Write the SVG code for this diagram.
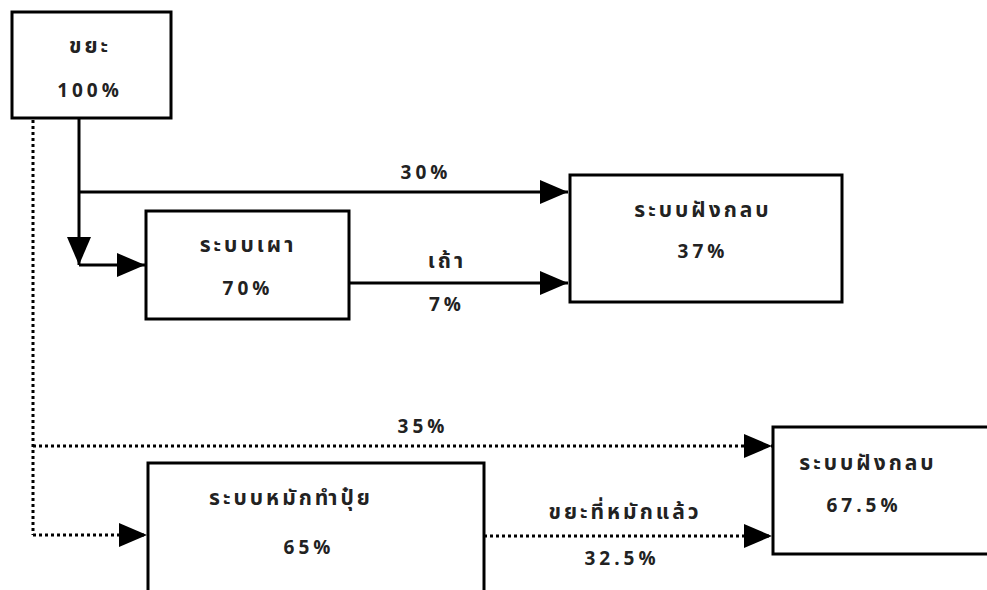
<svg xmlns="http://www.w3.org/2000/svg" width="987" height="590" viewBox="0 0 987 590">
<defs>
<style>
.box{fill:#fff;stroke:#000;stroke-width:3}
.t{font-family:"Noto Sans Thai","Noto Sans","DejaVu Sans","Liberation Sans",sans-serif;font-size:19px;font-weight:bold;fill:#222;text-anchor:middle;letter-spacing:4px}
.th{font-size:21px;letter-spacing:3px}
.s{fill:none;stroke:#000;stroke-width:3}
.d{fill:none;stroke:#000;stroke-width:3;stroke-dasharray:3 3}
</style>
<marker id="ah" markerUnits="userSpaceOnUse" markerWidth="30" markerHeight="26" refX="28" refY="12" orient="auto">
<path d="M0,0 L28,12 L0,24 z" fill="#000"/>
</marker>
</defs>
<rect width="987" height="590" fill="#fff"/>
<g id="connectors">
<path class="s" d="M79,118 V265" marker-end="url(#ah)"/>
<path class="s" d="M79,265 H145" marker-end="url(#ah)"/>
<path class="s" d="M79,192 H568" marker-end="url(#ah)"/>
<path class="s" d="M349,283 H568" marker-end="url(#ah)"/>
<path class="d" d="M33,120 V535"/>
<path class="d" d="M33,446 H772" marker-end="url(#ah)"/>
<path class="d" d="M33,535 H147" marker-end="url(#ah)"/>
<path class="d" d="M484,536 H772" marker-end="url(#ah)"/>
<text class="t" x="426" y="179">30%</text>
<text class="t th" x="447" y="268">เถ้า</text>
<text class="t" x="447" y="311">7%</text>
<text class="t" x="423" y="433">35%</text>
<text class="t th" x="625" y="519">ขยะที่หมักแล้ว</text>
<text class="t" x="622" y="565">32.5%</text>
</g>
<g id="n1">
<rect class="box" x="12" y="12" width="159" height="106"/>
<text class="t th" x="90" y="53">ขยะ</text>
<text class="t" x="90" y="97">100%</text>
</g>
<g id="n2">
<rect class="box" x="146" y="211" width="203" height="108"/>
<text class="t th" x="248" y="252">ระบบเผา</text>
<text class="t" x="248" y="295">70%</text>
</g>
<g id="n3">
<rect class="box" x="570" y="175" width="272" height="127"/>
<text class="t th" x="703" y="217">ระบบฝังกลบ</text>
<text class="t" x="703" y="258">37%</text>
</g>
<g id="n4">
<rect class="box" x="148" y="463" width="336" height="140"/>
<text class="t th" x="291" y="505">ระบบหมักทำปุ๋ย</text>
<text class="t" x="309" y="554">65%</text>
</g>
<g id="n5">
<rect class="box" x="773" y="427" width="220" height="127"/>
<text class="t th" x="868" y="470">ระบบฝังกลบ</text>
<text class="t" x="864" y="512">67.5%</text>
</g>
</svg>
